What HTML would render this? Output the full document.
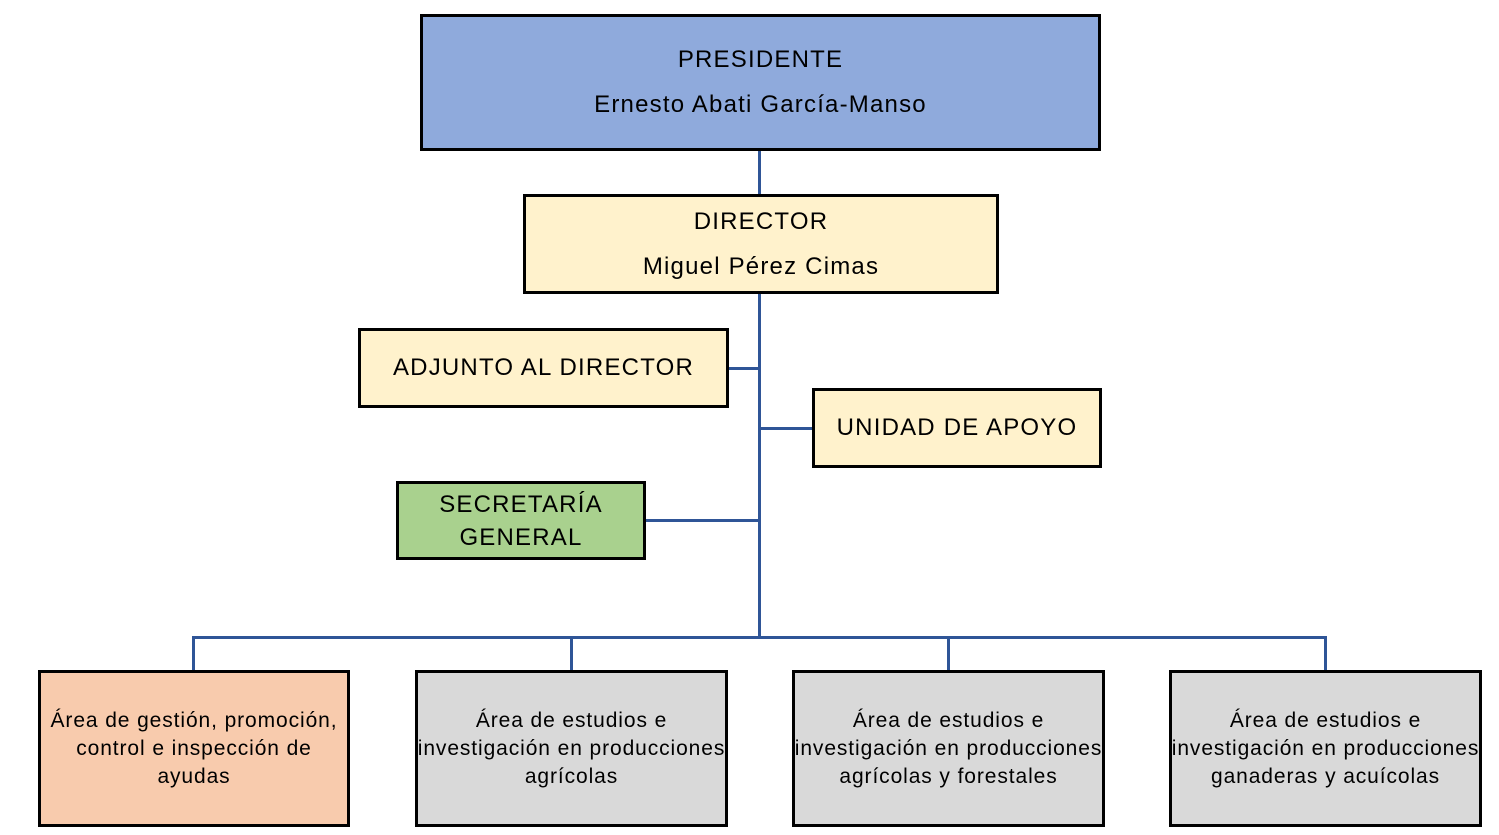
<!DOCTYPE html>
<html><head><meta charset="utf-8"><style>
body{margin:0;width:1499px;height:835px;background:#fff;position:relative;overflow:hidden;font-family:"Liberation Sans",sans-serif;color:#000}
.b{position:absolute;box-sizing:border-box;border:3px solid #000;display:flex;flex-direction:column;align-items:center;justify-content:center;text-align:center;white-space:nowrap}
.t{font-size:24px;letter-spacing:1.2px}
.s{font-size:21px;letter-spacing:0.9px;line-height:28px}
.l{position:absolute;background:#2f5597}
</style></head><body>
<div class="l" style="left:758px;top:150px;width:3px;height:488px"></div>
<div class="l" style="left:728px;top:367px;width:32px;height:3px"></div>
<div class="l" style="left:759px;top:427px;width:53px;height:3px"></div>
<div class="l" style="left:645px;top:519px;width:115px;height:3px"></div>
<div class="l" style="left:192px;top:636px;width:1135px;height:3px"></div>
<div class="l" style="left:192px;top:636px;width:3px;height:35px"></div>
<div class="l" style="left:570px;top:636px;width:3px;height:35px"></div>
<div class="l" style="left:947px;top:636px;width:3px;height:35px"></div>
<div class="l" style="left:1324px;top:636px;width:3px;height:35px"></div>

<div class="b t" style="left:420px;top:14px;width:681px;height:137px;background:#8faadc;line-height:45px;padding-bottom:2px">PRESIDENTE<br>Ernesto Abati García-Manso</div>
<div class="b t" style="left:523px;top:194px;width:476px;height:100px;background:#fff2cc;line-height:45px">DIRECTOR<br>Miguel Pérez Cimas</div>
<div class="b t" style="left:358px;top:328px;width:371px;height:80px;background:#fff2cc">ADJUNTO AL DIRECTOR</div>
<div class="b t" style="left:812px;top:388px;width:290px;height:80px;background:#fff2cc">UNIDAD DE APOYO</div>
<div class="b t" style="left:396px;top:481px;width:250px;height:79px;background:#a9d18e;line-height:33px">SECRETARÍA<br>GENERAL</div>

<div class="b s" style="left:38px;top:670px;width:312px;height:157px;background:#f8cbad">Área de gestión, promoción,<br>control e inspección de<br>ayudas</div>
<div class="b s" style="left:415px;top:670px;width:313px;height:157px;background:#d9d9d9">Área de estudios e<br>investigación en producciones<br>agrícolas</div>
<div class="b s" style="left:792px;top:670px;width:313px;height:157px;background:#d9d9d9">Área de estudios e<br>investigación en producciones<br>agrícolas y forestales</div>
<div class="b s" style="left:1169px;top:670px;width:313px;height:157px;background:#d9d9d9">Área de estudios e<br>investigación en producciones<br>ganaderas y acuícolas</div>
</body></html>
